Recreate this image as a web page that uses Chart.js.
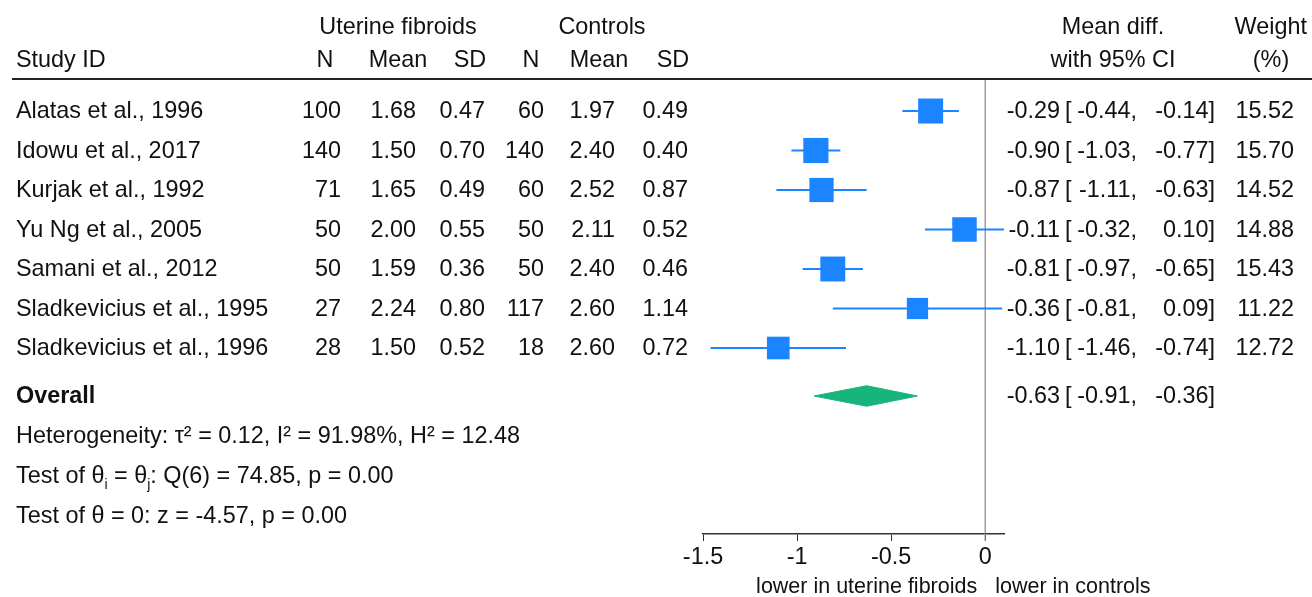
<!DOCTYPE html>
<html>
<head>
<meta charset="utf-8">
<script src="https://cdn.jsdelivr.net/npm/chart.js@4.4.0/dist/chart.umd.min.js"></script>
<style>
  html, body { margin: 0; padding: 0; background: #fff; }
  canvas { display: block; }
</style>
</head>
<body>
<canvas id="forest" width="1312" height="597"></canvas>
<script>
const studies  = ['Alatas et al., 1996', 'Idowu et al., 2017', 'Kurjak et al., 1992', 'Yu Ng et al., 2005',
                  'Samani et al., 2012', 'Sladkevicius et al., 1995', 'Sladkevicius et al., 1996'];
const nUF      = [100, 140, 71, 50, 50, 27, 28];
const meanUF   = ['1.68', '1.50', '1.65', '2.00', '1.59', '2.24', '1.50'];
const sdUF     = ['0.47', '0.70', '0.49', '0.55', '0.36', '0.80', '0.52'];
const nCtl     = [60, 140, 60, 50, 50, 117, 18];
const meanCtl  = ['1.97', '2.40', '2.52', '2.11', '2.40', '2.60', '2.60'];
const sdCtl    = ['0.49', '0.40', '0.87', '0.52', '0.46', '1.14', '0.72'];
const md       = [-0.29, -0.90, -0.87, -0.11, -0.81, -0.36, -1.10];
const ciLo     = [-0.44, -1.03, -1.11, -0.32, -0.97, -0.81, -1.46];
const ciHi     = [-0.14, -0.77, -0.63, 0.10, -0.65, 0.09, -0.74];
const weights  = [15.52, 15.70, 14.52, 14.88, 15.43, 11.22, 12.72];
const overall  = { est: -0.63, lo: -0.91, hi: -0.36 };
const xTicks   = [-1.5, -1, -0.5, 0];

const FONT = '"Liberation Sans", Arial, Helvetica, sans-serif';
const FS = 23.4;
const blue = '#1a85ff';
const green = '#17b57c';
const OVERALL_ROW = 8.215;

const fmt = v => (v < 0 ? '-' : '') + Math.abs(v).toFixed(2);

// datasets: CI whiskers, weighted boxes, overall diamond
const datasets = [];
studies.forEach((s, i) => {
  datasets.push({
    data: [{ x: ciLo[i], y: i + 1 }, { x: ciHi[i], y: i + 1 }],
    showLine: true, borderColor: blue, borderWidth: 2, pointRadius: 0, clip: false
  });
});
datasets.push({
  data: md.map((v, i) => ({ x: v, y: i + 1 })),
  pointStyle: 'rect',
  pointRadius: weights.map(w => 4.49 * Math.sqrt(w)),
  pointBackgroundColor: blue, pointBorderWidth: 0, clip: false
});
const dh = 0.26;
datasets.push({
  data: [
    { x: overall.lo, y: OVERALL_ROW }, { x: overall.est, y: OVERALL_ROW - dh },
    { x: overall.hi, y: OVERALL_ROW }, { x: overall.est, y: OVERALL_ROW + dh },
    { x: overall.lo, y: OVERALL_ROW }
  ],
  showLine: true, fill: 'shape', backgroundColor: green, borderColor: green,
  borderWidth: 1, pointRadius: 0, tension: 0, clip: false
});

function runs(ctx, x, y, parts) {
  let cx = x;
  parts.forEach(p => {
    if (p.sub) {
      ctx.font = `${Math.round(FS * 0.6)}px ${FONT}`;
      ctx.fillText(p.t, cx, y + 8);
    } else {
      ctx.font = `${FS}px ${FONT}`;
      ctx.fillText(p.t, cx, y);
    }
    cx += ctx.measureText(p.t).width;
  });
  ctx.font = `${FS}px ${FONT}`;
}

const forestText = {
  id: 'forestText',
  beforeDatasetsDraw(chart) {
    const { ctx, scales: { x }, chartArea } = chart;
    const x0 = x.getPixelForValue(0);
    ctx.save();
    // header rule
    ctx.strokeStyle = '#222';
    ctx.lineWidth = 2;
    ctx.beginPath(); ctx.moveTo(12, 79); ctx.lineTo(1312, 79); ctx.stroke();
    // no-effect line
    ctx.strokeStyle = '#888';
    ctx.lineWidth = 1.2;
    ctx.beginPath(); ctx.moveTo(x0, 80); ctx.lineTo(x0, chartArea.bottom + 7); ctx.stroke();
    ctx.restore();
  },
  afterDraw(chart) {
    const { ctx, scales: { x, y } } = chart;
    ctx.save();
    ctx.fillStyle = '#111';
    ctx.textBaseline = 'middle';
    ctx.font = `${FS}px ${FONT}`;

    const put = (t, px, py, align) => { ctx.textAlign = align; ctx.fillText(t, px, py); };

    // headers
    put('Uterine fibroids', 398, 28, 'center');
    put('Controls', 602, 28, 'center');
    put('Mean diff.', 1113, 28, 'center');
    put('Weight', 1307, 28, 'right');
    put('Study ID', 16, 61, 'left');
    put('N', 325, 61, 'center');
    put('Mean', 398, 61, 'center');
    put('SD', 470, 61, 'center');
    put('N', 531, 61, 'center');
    put('Mean', 599, 61, 'center');
    put('SD', 673, 61, 'center');
    put('with 95% CI', 1113, 61, 'center');
    put('(%)', 1271, 61, 'center');

    studies.forEach((s, i) => {
      const py = y.getPixelForValue(i + 1) + 1;
      put(s, 16, py, 'left');
      put(String(nUF[i]), 341, py, 'right');
      put(meanUF[i], 416, py, 'right');
      put(sdUF[i], 485, py, 'right');
      put(String(nCtl[i]), 544, py, 'right');
      put(meanCtl[i], 615, py, 'right');
      put(sdCtl[i], 688, py, 'right');
      put(fmt(md[i]), 1060, py, 'right');
      put('[', 1065, py, 'left');
      put(fmt(ciLo[i]) + ',', 1137, py, 'right');
      put(fmt(ciHi[i]) + ']', 1215, py, 'right');
      put(weights[i].toFixed(2), 1294, py, 'right');
    });

    const oy = y.getPixelForValue(OVERALL_ROW) + 1;
    ctx.font = `bold ${FS}px ${FONT}`;
    put('Overall', 16, oy, 'left');
    ctx.font = `${FS}px ${FONT}`;
    put(fmt(overall.est), 1060, oy, 'right');
    put('[', 1065, oy, 'left');
    put(fmt(overall.lo) + ',', 1137, oy, 'right');
    put(fmt(overall.hi) + ']', 1215, oy, 'right');

    ctx.textAlign = 'left';
    ctx.fillText('Heterogeneity: \u03c4\u00b2 = 0.12, I\u00b2 = 91.98%, H\u00b2 = 12.48', 16, oy + 40);
    runs(ctx, 16, oy + 80, [
      { t: 'Test of \u03b8' }, { t: 'i', sub: true }, { t: ' = \u03b8' }, { t: 'j', sub: true },
      { t: ': Q(6) = 74.85, p = 0.00' }
    ]);
    ctx.fillText('Test of \u03b8 = 0: z = -4.57, p = 0.00', 16, oy + 120);

    // axis caption
    const x0 = x.getPixelForValue(0);
    ctx.font = `21.5px ${FONT}`;
    put('lower in uterine fibroids', x0 - 8, 587, 'right');
    put('lower in controls', x0 + 10, 587, 'left');
    ctx.restore();
  }
};

new Chart(document.getElementById('forest'), {
  type: 'scatter',
  data: { datasets },
  options: {
    responsive: false,
    animation: false,
    events: [],
    layout: { padding: { left: 703, right: 308, top: 80, bottom: 0 } },
    plugins: { legend: { display: false }, tooltip: { enabled: false } },
    scales: {
      x: {
        type: 'linear', position: 'bottom', min: -1.5, max: 0.1,
        afterBuildTicks: s => { s.ticks = xTicks.map(v => ({ value: v })); },
        afterFit: s => { s.height = 63; },
        grid: { drawOnChartArea: false, drawTicks: true, tickLength: 7, color: '#333', lineWidth: 1 },
        border: { display: true, color: '#333', width: 1.5 },
        ticks: { font: { size: FS, family: FONT }, color: '#111', padding: 3, maxRotation: 0, autoSkip: false,
                 callback: v => String(v) }
      },
      y: { type: 'linear', display: false, reverse: true, min: 0.215, max: 11.709 }
    }
  },
  plugins: [forestText]
});
</script>
</body>
</html>
